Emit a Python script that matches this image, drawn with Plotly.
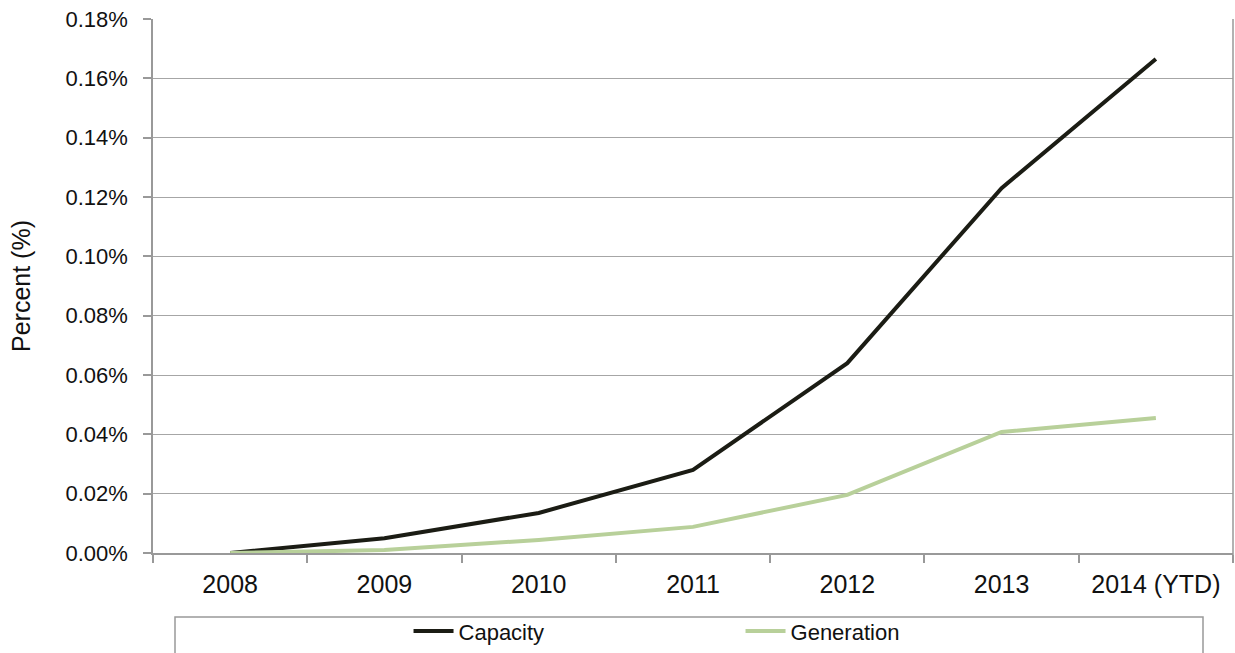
import plotly.graph_objects as go

years = ["2008", "2009", "2010", "2011", "2012", "2013", "2014 (YTD)"]
capacity = [0.0000, 0.0050, 0.0135, 0.0280, 0.0640, 0.1230, 0.1665]
generation = [0.0000, 0.0010, 0.0044, 0.0088, 0.0196, 0.0408, 0.0455]
ytick_vals = [0.00, 0.02, 0.04, 0.06, 0.08, 0.10, 0.12, 0.14, 0.16, 0.18]
ytick_text = ["0.00%", "0.02%", "0.04%", "0.06%", "0.08%", "0.10%", "0.12%", "0.14%", "0.16%", "0.18%"]

FONT = "Arial, Liberation Sans, sans-serif"

fig = go.Figure()
fig.add_trace(go.Scatter(x=years, y=capacity, mode="lines", name="Capacity",
                         line=dict(color="#1b1c14", width=4)))
fig.add_trace(go.Scatter(x=years, y=generation, mode="lines", name="Generation",
                         line=dict(color="#b8d09a", width=4)))

fig.update_layout(
    width=1235, height=653,
    margin=dict(l=153, r=2, t=19, b=100, autoexpand=False),
    paper_bgcolor="white", plot_bgcolor="white",
    font=dict(family=FONT, size=22, color="#111111"),
    showlegend=True,
    legend=dict(orientation="h", x=0.2366, y=-0.186, xanchor="left", yanchor="bottom",
                entrywidth=277, entrywidthmode="pixels",
                font=dict(size=22, family=FONT), bgcolor="rgba(0,0,0,0)",
                itemwidth=40, tracegroupgap=0),
    xaxis=dict(type="category", showgrid=False, showline=True, linecolor="#999999",
               linewidth=1.5, ticks="outside", tickson="boundaries", ticklen=8,
               tickcolor="#999999", tickwidth=1.5, range=[-0.5, 6.5],
               ticklabelstandoff=8, automargin=False,
               tickfont=dict(size=25, family=FONT), fixedrange=True),
    yaxis=dict(range=[0, 0.18], tickvals=ytick_vals, ticktext=ytick_text,
               showgrid=True, gridcolor="#a6a6a6", gridwidth=1.2,
               showline=True, linecolor="#999999", linewidth=1.5,
               ticks="outside", ticklen=8, tickcolor="#999999", tickwidth=1.5,
               ticklabelstandoff=11, automargin=False,
               tickfont=dict(size=22, family=FONT), zeroline=False,
               title=dict(text="Percent (%)", font=dict(size=25, family=FONT), standoff=28)),
)

# right border of plot area
fig.add_shape(type="line", xref="paper", yref="paper", x0=1, x1=1, y0=-0.013, y1=1,
              line=dict(color="#999999", width=1.5))
# legend box
fig.add_shape(type="rect", xref="paper", yref="paper", x0=(175-153)/1080, x1=(1203-153)/1080,
              y0=-0.21, y1=(553-617)/534, line=dict(color="#999999", width=1.5),
              fillcolor="rgba(0,0,0,0)", layer="below")

fig.write_html("out.html")
